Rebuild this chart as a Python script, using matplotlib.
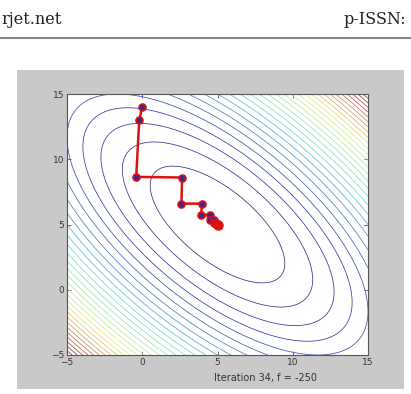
import numpy as np
import matplotlib
matplotlib.use("Agg")
from matplotlib import pyplot as plt
from matplotlib.patches import Rectangle
from matplotlib.lines import Line2D

# Quadratic objective f = a*x^2 + b*x*y + c*y^2 + d*x + e*y  (min -250 at (5, 5))
coef_a, coef_b, coef_c, coef_d, coef_e = 3, 4, 3, -50, -50
f_min, f_max = -250, 750
n_levels = 30

# Search path
path_x = [0.0, -0.2, -0.4, 2.65, 2.6, 3.95, 3.93, 4.5, 4.5, 4.78, 4.78, 4.9, 4.9, 4.96, 4.96, 5.0]
path_y = [14.0, 13.0, 8.65, 8.6, 6.6, 6.6, 5.75, 5.75, 5.35, 5.33, 5.15, 5.15, 5.07, 5.07, 5.03, 5.0]

ticks = [-5, 0, 5, 10, 15]
label = "Iteration 34, f = -250"

fig = plt.figure(figsize=(4.11, 3.94), dpi=100)
fig.patch.set_facecolor("white")

# page header
fig.text(1 / 411, 1 - 24 / 394, "rjet.net", family="DejaVu Serif", fontsize=11.5, color="#222222")
fig.text(343 / 411, 1 - 24 / 394, "p-ISSN:", family="DejaVu Serif", fontsize=11.5, color="#222222")
fig.add_artist(Line2D([0, 1], [1 - 38 / 394, 1 - 38 / 394], color="#8a8a8a", lw=1.5))

# gray figure panel
fig.add_artist(Rectangle((17 / 411, 1 - 389 / 394), (404 - 17) / 411, (389 - 70) / 394,
                         facecolor="#c9c9c9", edgecolor="none", zorder=0))

ax = fig.add_axes([67 / 411, 1 - 355 / 394, (368 - 67) / 411, (355 - 94) / 394])
ax.set_facecolor("white")

gx = np.linspace(-5, 15, 300)
gy = np.linspace(-5, 15, 300)
X, Y = np.meshgrid(gx, gy)
Z = coef_a * X**2 + coef_b * X * Y + coef_c * Y**2 + coef_d * X + coef_e * Y
levels = np.linspace(f_min, f_max, n_levels + 1)[1:-1]

# washed-out jet, like the low-res screenshot
jet = plt.get_cmap("jet")
line_colors = []
for v in levels:
    c = np.array(jet((v - f_min) / (f_max - f_min))[:3])
    lum = 0.3 * c[0] + 0.59 * c[1] + 0.11 * c[2]
    line_colors.append(0.45 * c + 0.55 * (0.3 + 0.65 * lum))
ax.contour(X, Y, Z, levels=levels, colors=line_colors, linewidths=0.55)

ax.plot(path_x, path_y, color="#e01010", lw=1.8, marker="o", markersize=5,
        markerfacecolor="#3a2a90", markeredgecolor="#e01010", markeredgewidth=1.2)
ax.plot(path_x[-1], path_y[-1], "o", color="#e01010", markersize=6.5)

ax.set_xlim(-5, 15)
ax.set_ylim(-5, 15)
ax.set_xticks(ticks)
ax.set_yticks(ticks)
ax.tick_params(direction="in", length=3, width=0.6, top=True, right=True,
               labelsize=6.5, labelcolor="#333333", color="#555555", pad=2)
for s in ax.spines.values():
    s.set_color("#555555")
    s.set_linewidth(0.8)

ax.text(0.66, -0.07, label, transform=ax.transAxes, ha="center", va="top",
        fontsize=7, color="#333333")

fig.savefig("out.png", dpi=100)
